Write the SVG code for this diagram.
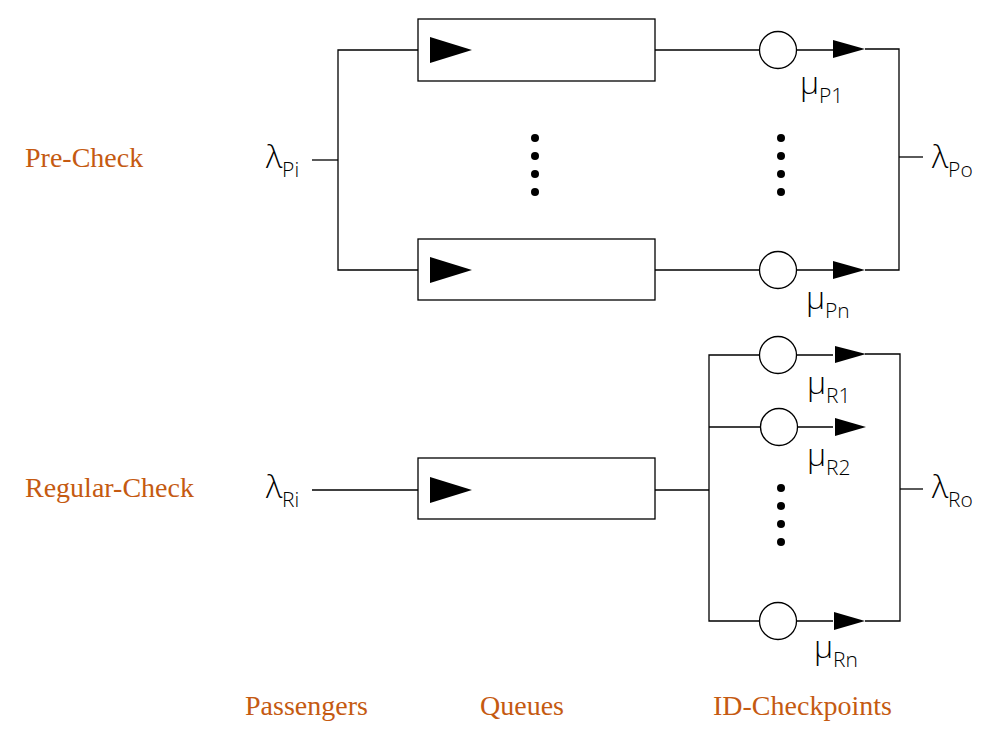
<svg xmlns="http://www.w3.org/2000/svg" width="1003" height="747" viewBox="0 0 1003 747">
<style>
.ln{fill:none;stroke:#000;stroke-width:1.3}
.box{fill:#fff;stroke:#000;stroke-width:1.3}
.srv{fill:#fff;stroke:#000;stroke-width:1.3}
.tri{fill:#000}
.dot{fill:#000}
.cat{font-family:"Liberation Serif",serif;font-size:28px;fill:#C55A11}
.sym{font-family:"Open Sans","Noto Sans",sans-serif;font-weight:300;font-size:32px;fill:#000}
.sub{font-size:21px}
</style>
<rect width="1003" height="747" fill="#fff"/>
<g id="connectors">
<polyline class="ln" points="312,160 338,160"/>
<polyline class="ln" points="430,50 338,50 338,270 430,270"/>
<polyline class="ln" points="655,50 759,50"/>
<polyline class="ln" points="797,50 833,50"/>
<polyline class="ln" points="655,270 759,270"/>
<polyline class="ln" points="797,270 833,270"/>
<polyline class="ln" points="865,49 899,49 899,270 865,270"/>
<polyline class="ln" points="899,157 923,157"/>
<polyline class="ln" points="312,490 430,490"/>
<polyline class="ln" points="655,490 709,490"/>
<polyline class="ln" points="759,355 709,355 709,621 759,621"/>
<polyline class="ln" points="709,427 760,427"/>
<polyline class="ln" points="797,355 833,355"/>
<polyline class="ln" points="798,427 833,427"/>
<polyline class="ln" points="797,621 833,621"/>
<polyline class="ln" points="865,354 900,354 900,621 865,621"/>
<polyline class="ln" points="900,489 923,489"/>
</g>
<g id="queue-p1">
<rect class="box" x="418" y="19" width="237" height="62"/>
<polygon class="tri" points="430,37 472,50 430,63"/>
</g>
<g id="queue-pn">
<rect class="box" x="418" y="239" width="237" height="61"/>
<polygon class="tri" points="430,257 472,270 430,283"/>
</g>
<g id="queue-r">
<rect class="box" x="418" y="458" width="237" height="61"/>
<polygon class="tri" points="430,477 472,490 430,503"/>
</g>
<g id="queue-dots">
<circle class="dot" cx="535" cy="138" r="4"/>
<circle class="dot" cx="535" cy="156" r="4"/>
<circle class="dot" cx="535" cy="174" r="4"/>
<circle class="dot" cx="535" cy="192" r="4"/>
</g>
<g id="server-p1">
<circle class="srv" cx="778" cy="50" r="18.5"/>
<polygon class="tri" points="833,40 865,49 833,58"/>
<text class="sym" x="800" y="94">μ<tspan class="sub" dy="9">P1</tspan></text>
</g>
<g id="p-dots">
<circle class="dot" cx="781" cy="138" r="4"/>
<circle class="dot" cx="781" cy="156" r="4"/>
<circle class="dot" cx="781" cy="174" r="4"/>
<circle class="dot" cx="781" cy="192" r="4"/>
</g>
<g id="server-pn">
<circle class="srv" cx="778" cy="270" r="18.5"/>
<polygon class="tri" points="833,261 865,270 833,279"/>
<text class="sym" x="806" y="309">μ<tspan class="sub" dy="9">Pn</tspan></text>
</g>
<g id="server-r1">
<circle class="srv" cx="778" cy="355" r="18.5"/>
<polygon class="tri" points="835,346 866,354 835,363"/>
<text class="sym" x="807" y="394">μ<tspan class="sub" dy="9">R1</tspan></text>
</g>
<g id="server-r2">
<circle class="srv" cx="779" cy="427" r="18.5"/>
<polygon class="tri" points="835,418 866,427 835,436"/>
<text class="sym" x="807" y="466">μ<tspan class="sub" dy="9">R2</tspan></text>
</g>
<g id="r-dots">
<circle class="dot" cx="781" cy="488" r="4"/>
<circle class="dot" cx="781" cy="506" r="4"/>
<circle class="dot" cx="781" cy="524" r="4"/>
<circle class="dot" cx="781" cy="542" r="4"/>
</g>
<g id="server-rn">
<circle class="srv" cx="778" cy="621" r="18.5"/>
<polygon class="tri" points="834,612 865,621 834,630"/>
<text class="sym" x="814" y="658">μ<tspan class="sub" dy="9">Rn</tspan></text>
</g>
<g id="labels">
<text class="sym" x="266" y="168">λ<tspan class="sub" dy="9">Pi</tspan></text>
<text class="sym" x="932" y="168">λ<tspan class="sub" dy="9">Po</tspan></text>
<text class="sym" x="266" y="498">λ<tspan class="sub" dy="9">Ri</tspan></text>
<text class="sym" x="932" y="498">λ<tspan class="sub" dy="9">Ro</tspan></text>
<text class="cat" x="25" y="167">Pre-Check</text>
<text class="cat" x="25" y="497">Regular-Check</text>
<text class="cat" x="245" y="715">Passengers</text>
<text class="cat" x="480" y="715">Queues</text>
<text class="cat" x="713" y="715">ID-Checkpoints</text>
</g>
</svg>
